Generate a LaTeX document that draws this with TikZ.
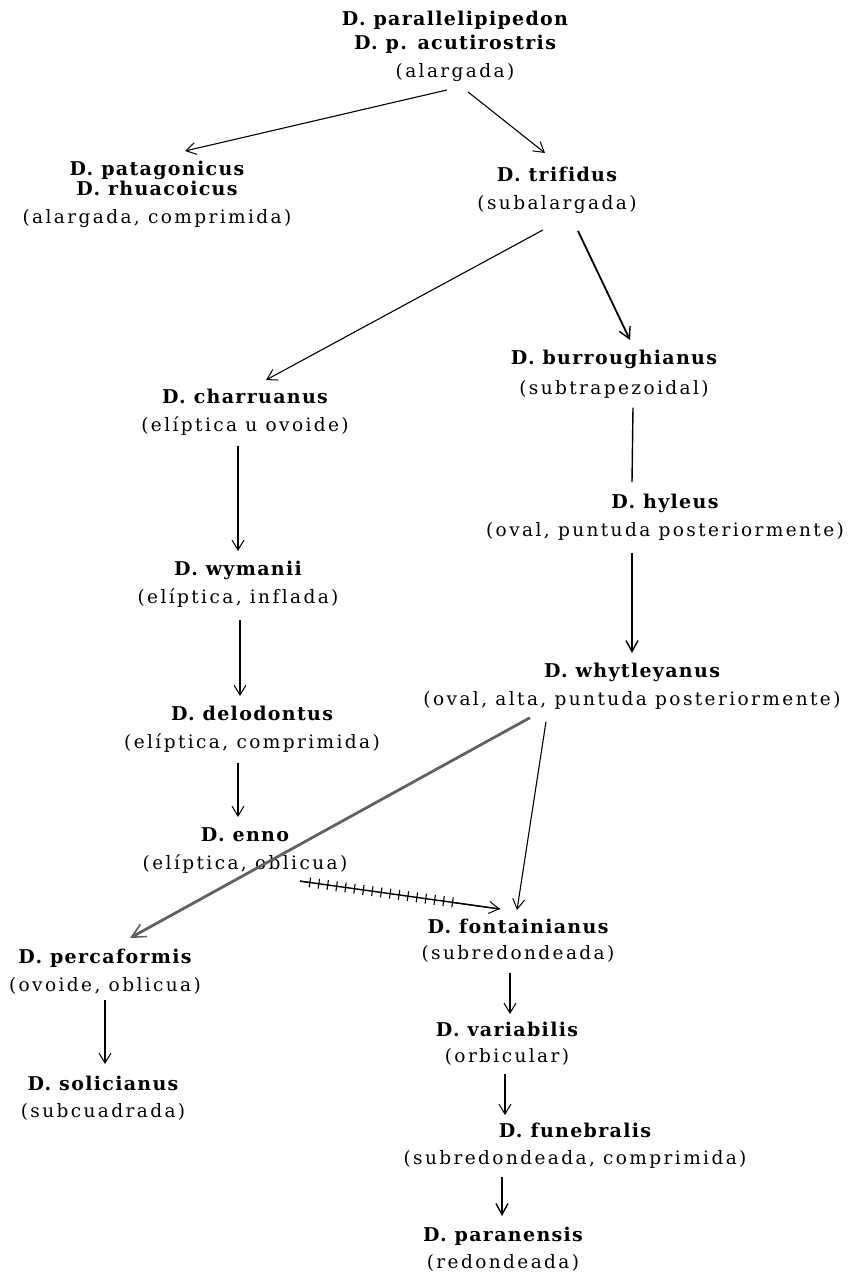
\documentclass[tikz,border=0pt]{standalone}
\usepackage{fontspec}
\setmainfont{DejaVu Serif}
\newfontfamily\nmfont[LetterSpace=7,Ligatures={NoCommon}]{DejaVu Serif}
\newfontfamily\dsfont[LetterSpace=13,Ligatures={NoCommon}]{DejaVu Serif}
\newcommand{\nm}[1]{{\fontsize{19}{28}\nmfont\bfseries #1}}
\newcommand{\ds}[1]{{\fontsize{18.5}{28}\dsfont #1}}
\usetikzlibrary{arrows.meta,calc,decorations.pathreplacing}
\tikzset{
  blk/.style={align=center, inner sep=0pt, anchor=north, font=\fontsize{18}{28}\selectfont},
  arr/.style={line width=1.1pt, -{Straight Barb[length=10pt,width=12pt,line width=1pt]}},
  plain/.style={line width=1.4pt},
  thickarr/.style={line width=1.8pt, -{Straight Barb[length=11pt,width=12pt,line width=1.4pt]}},
  grayarr/.style={line width=2.8pt, black!62, -{Straight Barb[length=14pt,width=14pt,line width=1.6pt]}},
  hatcharr/.style={line width=1.4pt, -{Straight Barb[length=10pt,width=12pt,line width=1pt]},
    postaction={draw, -, line width=1.1pt, decorate, decoration={ticks, segment length=9pt, amplitude=5pt, pre length=10pt, post length=45pt}}}
}
\begin{document}
\begin{tikzpicture}[x=1pt,y=-1pt]
\fill[white] (0,0) rectangle (848,1278);
\useasboundingbox (0,0) rectangle (848,1278);

\node[blk] (par) at (455,11) {\nm{D. parallelipipedon}\\[-4pt]\nm{D. p. acutirostris}\\\ds{(alargada)}};
\node[blk] (pat) at (157,161) {\nm{D. patagonicus}\\[-8pt]\nm{D. rhuacoicus}\\\ds{(alargada, comprimida)}};
\node[blk] (tri) at (557,167) {\nm{D. trifidus}\\\ds{(subalargada)}};
\node[blk] (bur) at (614,350) {\nm{D. burroughianus}\\[2pt]\ds{(subtrapezoidal)}};
\node[blk] (cha) at (245,389) {\nm{D. charruanus}\\\ds{(elíptica u ovoide)}};
\node[blk] (hyl) at (665,494) {\nm{D. hyleus}\\\ds{(oval, puntuda posteriormente)}};
\node[blk] (wym) at (238,561) {\nm{D. wymanii}\\\ds{(elíptica, inflada)}};
\node[blk] (why) at (632,663) {\nm{D. whytleyanus}\\\ds{(oval, alta, puntuda posteriormente)}};
\node[blk] (del) at (252,706) {\nm{D. delodontus}\\\ds{(elíptica, comprimida)}};
\node[blk] (enn) at (245,827) {\nm{D. enno}\\\ds{(elíptica, oblicua)}};
\node[blk] (fon) at (518,919) {\nm{D. fontainianus}\\[-2pt]\ds{(subredondeada)}};
\node[blk] (per) at (105,949) {\nm{D. percaformis}\\\ds{(ovoide, oblicua)}};
\node[blk] (var) at (507,1022) {\nm{D. variabilis}\\[-2pt]\ds{(orbicular)}};
\node[blk] (sol) at (103,1076) {\nm{D. solicianus}\\[-1pt]\ds{(subcuadrada)}};
\node[blk] (fun) at (575,1123) {\nm{D. funebralis}\\[-1pt]\ds{(subredondeada, comprimida)}};
\node[blk] (prn) at (503,1227) {\nm{D. paranensis}\\[-1pt]\ds{(redondeada)}};

\draw[arr] ([shift={(-8,8)}]par.south) -- ([shift={(28,-10)}]pat.north);
\draw[arr] ([shift={(13,10)}]par.south) -- ([shift={(-12,-14)}]tri.north);
\draw[arr] ([shift={(-14,16)}]tri.south) -- ([shift={(21,-9)}]cha.north);
\draw[thickarr] ([shift={(21,17)}]tri.south) -- ([shift={(16,-10)}]bur.north);
\draw[plain] ([shift={(19,9)}]bur.south) -- ([shift={(-33,-12)}]hyl.north);
\draw[arr] ([shift={(-7,10)}]cha.south) -- ([shift={(0,-10)}]wym.north);
\draw[thickarr] ([shift={(-33,12)}]hyl.south) -- ([shift={(0,-10)}]why.north);
\draw[arr] ([shift={(2,12)}]wym.south) -- ([shift={(-12,-10)}]del.north);
\draw[arr] ([shift={(-14,10)}]del.south) -- ([shift={(-7,-10)}]enn.north);
\draw[grayarr] ([shift={(-102,8)}]why.south) -- ([shift={(25,-11)}]per.north);
\draw[arr] ([shift={(-86,12)}]why.south) -- ([shift={(-1,-9)}]fon.north);
\draw[hatcharr] ([shift={(55,8)}]enn.south) -- ([shift={(-18,-10)}]fon.north);
\draw[arr] ([shift={(0,5)}]per.south) -- ([shift={(2,-12)}]sol.north);
\draw[arr] ([shift={(-8,10)}]fon.south) -- ([shift={(3,-8)}]var.north);
\draw[arr] ([shift={(-2,8)}]var.south) -- ([shift={(-70,-8)}]fun.north);
\draw[thickarr] ([shift={(-73,8)}]fun.south) -- ([shift={(-1,-11)}]prn.north);
\end{tikzpicture}
\end{document}
